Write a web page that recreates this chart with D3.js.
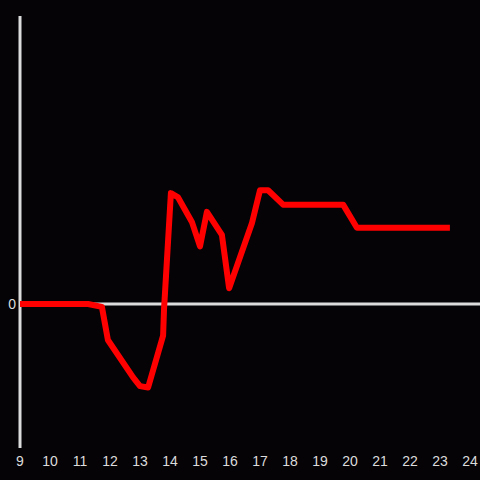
<!DOCTYPE html>
<html><head><meta charset="utf-8">
<script src="https://cdn.jsdelivr.net/npm/d3@7"></script>
<style>html,body{margin:0;padding:0;background:#050306;}svg{display:block;}</style>
</head><body>
<svg id="c" width="480" height="480"></svg>
<script>
const xs = [9, 11.27, 11.73, 11.93, 12.77, 13.0, 13.27, 13.77, 13.8, 14.03, 14.27, 14.73, 15.0, 15.23, 15.73, 15.97, 16.73, 17.0, 17.27, 17.77, 19.77, 20.23, 23.33];
const ys = [0, 0, -0.02, -0.25, -0.51, -0.57, -0.58, -0.22, -0.04, 0.77, 0.74, 0.57, 0.40, 0.64, 0.48, 0.11, 0.56, 0.79, 0.79, 0.69, 0.69, 0.53, 0.53];
const xTicks = [9,10,11,12,13,14,15,16,17,18,19,20,21,22,23,24];
const yTicks = [0];

const svg = d3.select("#c");
const x = d3.scaleLinear().domain([9, 24]).range([20, 470]);
const y = d3.scaleLinear().domain([-1, 2]).range([448, 16]);
const axisColor = "#dcdcdc";
const font = "Liberation Sans, Arial, sans-serif";

// zero line
svg.append("line").attr("x1", x(9)).attr("x2", 480).attr("y1", y(0)).attr("y2", y(0))
  .attr("stroke", axisColor).attr("stroke-width", 3);
// y axis line
svg.append("line").attr("x1", x(9)).attr("x2", x(9)).attr("y1", 16).attr("y2", 448)
  .attr("stroke", axisColor).attr("stroke-width", 3);

// x tick labels
svg.append("g").selectAll("text").data(xTicks).join("text")
  .attr("x", d => x(d)).attr("y", 466).attr("text-anchor", "middle")
  .attr("fill", axisColor).attr("font-family", font).attr("font-size", 14)
  .text(d => d);
// y tick labels
svg.append("g").selectAll("text").data(yTicks).join("text")
  .attr("x", 16).attr("y", d => y(d) + 5).attr("text-anchor", "end")
  .attr("fill", axisColor).attr("font-family", font).attr("font-size", 14)
  .text(d => d);

const pts = xs.map((v, i) => [v, ys[i]]);
svg.append("path").datum(pts)
  .attr("d", d3.line().x(d => x(d[0])).y(d => y(d[1])))
  .attr("fill", "none").attr("stroke", "#ff0000").attr("stroke-width", 6)
  .attr("stroke-linejoin", "round");
</script>
</body></html>
